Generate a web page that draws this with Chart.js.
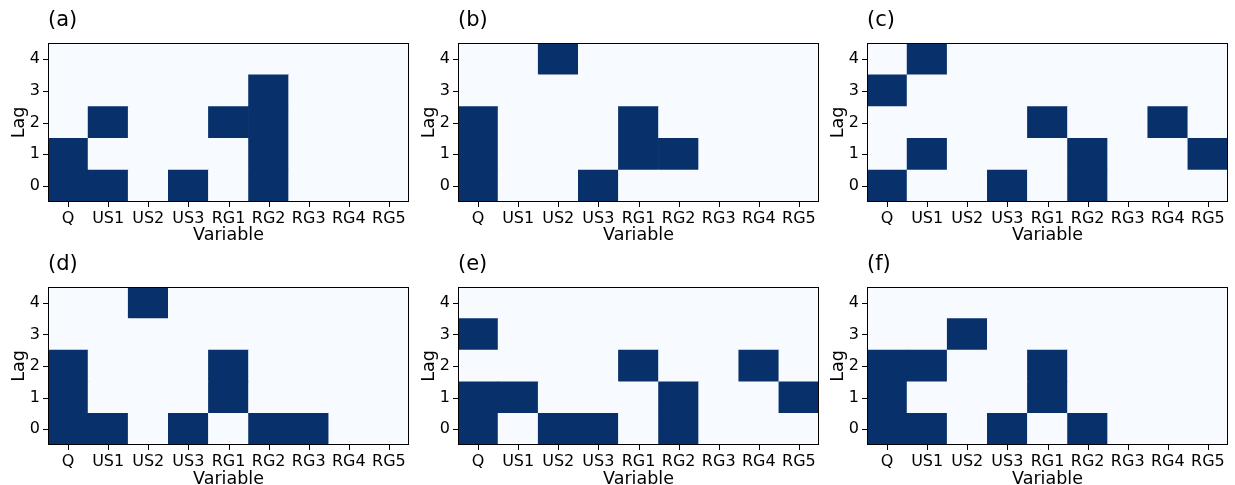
<!DOCTYPE html>
<html>
<head>
<meta charset="utf-8">
<script src="https://cdn.jsdelivr.net/npm/chart.js@4/dist/chart.umd.min.js"></script>
<style>
  body { margin: 0; background: #fff; }
  #wrap { position: relative; width: 1235px; height: 485px; overflow: hidden; }
  .panel { position: absolute; }
</style>
</head>
<body>
<div id="wrap"></div>
<script>
const variables = ["Q", "US1", "US2", "US3", "RG1", "RG2", "RG3", "RG4", "RG5"];
const lags = [0, 1, 2, 3, 4];
const panelTitles = ["(a)", "(b)", "(c)", "(d)", "(e)", "(f)"];

// rows are lag 0..4, columns follow variables
const panelA = [
  [1, 1, 0, 1, 0, 1, 0, 0, 0],
  [1, 0, 0, 0, 0, 1, 0, 0, 0],
  [0, 1, 0, 0, 1, 1, 0, 0, 0],
  [0, 0, 0, 0, 0, 1, 0, 0, 0],
  [0, 0, 0, 0, 0, 0, 0, 0, 0],
];
const panelB = [
  [1, 0, 0, 1, 0, 0, 0, 0, 0],
  [1, 0, 0, 0, 1, 1, 0, 0, 0],
  [1, 0, 0, 0, 1, 0, 0, 0, 0],
  [0, 0, 0, 0, 0, 0, 0, 0, 0],
  [0, 0, 1, 0, 0, 0, 0, 0, 0],
];
const panelC = [
  [1, 0, 0, 1, 0, 1, 0, 0, 0],
  [0, 1, 0, 0, 0, 1, 0, 0, 1],
  [0, 0, 0, 0, 1, 0, 0, 1, 0],
  [1, 0, 0, 0, 0, 0, 0, 0, 0],
  [0, 1, 0, 0, 0, 0, 0, 0, 0],
];
const panelD = [
  [1, 1, 0, 1, 0, 1, 1, 0, 0],
  [1, 0, 0, 0, 1, 0, 0, 0, 0],
  [1, 0, 0, 0, 1, 0, 0, 0, 0],
  [0, 0, 0, 0, 0, 0, 0, 0, 0],
  [0, 0, 1, 0, 0, 0, 0, 0, 0],
];
const panelE = [
  [1, 0, 1, 1, 0, 1, 0, 0, 0],
  [1, 1, 0, 0, 0, 1, 0, 0, 1],
  [0, 0, 0, 0, 1, 0, 0, 1, 0],
  [1, 0, 0, 0, 0, 0, 0, 0, 0],
  [0, 0, 0, 0, 0, 0, 0, 0, 0],
];
const panelF = [
  [1, 1, 0, 1, 0, 1, 0, 0, 0],
  [1, 0, 0, 0, 1, 0, 0, 0, 0],
  [1, 1, 0, 0, 1, 0, 0, 0, 0],
  [0, 0, 1, 0, 0, 0, 0, 0, 0],
  [0, 0, 0, 0, 0, 0, 0, 0, 0],
];
const panels = [panelA, panelB, panelC, panelD, panelE, panelF];

var DARK = "#08306b";
var LIGHT = "#f7fbff";
var FONT = "DejaVu Sans";
var TICK = 5;

// plot-area edges in the page, per column / row
var plotLeft = [48, 458, 867];
var plotRight = [409, 819, 1228];
var plotTop = [43, 287];
var plotBottom = [202, 445];

var framePlugin = {
  id: "frame",
  beforeDraw: function (chart) {
    var a = chart.chartArea, ctx = chart.ctx;
    ctx.save();
    ctx.fillStyle = LIGHT;
    ctx.fillRect(a.left, a.top, a.right - a.left, a.bottom - a.top);
    ctx.restore();
  },
  afterDraw: function (chart) {
    var a = chart.chartArea, ctx = chart.ctx;
    var xs = chart.scales.x, ys = chart.scales.y;
    var l = Math.round(a.left), t = Math.round(a.top);
    var r = Math.round(a.right), b = Math.round(a.bottom);
    ctx.save();
    ctx.strokeStyle = "#000";
    ctx.lineWidth = 1;
    ctx.strokeRect(l + 0.5, t + 0.5, r - l - 1, b - t - 1);
    // tick marks
    ctx.beginPath();
    xs.ticks.forEach(function (_, i) {
      var x = Math.round(xs.getPixelForTick(i)) + 0.5;
      ctx.moveTo(x, b);
      ctx.lineTo(x, b + TICK);
    });
    ys.ticks.forEach(function (_, i) {
      var y = Math.round(ys.getPixelForTick(i)) + 0.5;
      ctx.moveTo(l, y);
      ctx.lineTo(l - TICK, y);
    });
    ctx.stroke();
    ctx.fillStyle = "#000";
    ctx.font = "21px '" + FONT + "'";
    ctx.textBaseline = "alphabetic";
    ctx.textAlign = "left";
    ctx.fillText(chart.options.plugins.frame.label, a.left, a.top - 17);
    ctx.restore();
  },
};

var wrap = document.getElementById("wrap");

panels.forEach(function (grid, p) {
  var col = p % 3, row = Math.floor(p / 3);
  var left = plotLeft[col] - 48;
  var top = row === 0 ? 0 : 244;
  var width = plotRight[col] + 6 - left;
  var height = 246;
  var bottomPad = height - (plotBottom[row] - top);

  var div = document.createElement("div");
  div.className = "panel";
  div.style.left = left + "px";
  div.style.top = top + "px";
  div.style.width = width + "px";
  div.style.height = height + "px";
  var canvas = document.createElement("canvas");
  div.appendChild(canvas);
  wrap.appendChild(div);

  var datasets = lags.map(function (lag, i) {
    return {
      label: "Lag " + lag,
      data: grid[i].map(function () { return [lag - 0.5, lag + 0.5]; }),
      backgroundColor: grid[i].map(function (v) { return v ? DARK : LIGHT; }),
      borderWidth: 0,
      barPercentage: 1,
      categoryPercentage: 1,
    };
  });

  new Chart(canvas.getContext("2d"), {
    type: "bar",
    data: { labels: variables, datasets: datasets },
    options: {
      responsive: true,
      maintainAspectRatio: false,
      animation: false,
      layout: { padding: { top: plotTop[row] - top, right: 6, left: 0, bottom: 0 } },
      plugins: {
        legend: { display: false },
        tooltip: { enabled: false },
        frame: { label: panelTitles[p] },
      },
      scales: {
        x: {
          stacked: true,
          border: { display: false },
          grid: { offset: false, drawOnChartArea: false, drawTicks: true, tickLength: TICK, color: "rgba(0,0,0,0)" },
          ticks: { color: "#000", padding: 2, maxRotation: 0, autoSkip: false, font: { family: FONT, size: 16 } },
          title: { display: true, text: "Variable", color: "#000", padding: { top: 0, bottom: 0 }, font: { family: FONT, size: 17.5 } },
          afterFit: function (scale) { scale.height = bottomPad; },
        },
        y: {
          min: -0.5,
          max: 4.5,
          border: { display: false },
          grid: { drawOnChartArea: false, drawTicks: true, tickLength: TICK, color: "rgba(0,0,0,0)" },
          ticks: { color: "#000", padding: 3, font: { family: FONT, size: 16 } },
          title: { display: true, text: "Lag", color: "#000", padding: { top: 9, bottom: 0 }, font: { family: FONT, size: 17.5 } },
          afterBuildTicks: function (scale) {
            scale.ticks = lags.map(function (v) { return { value: v }; });
          },
          afterFit: function (scale) { scale.width = 48; },
        },
      },
    },
    plugins: [framePlugin],
  });
});
</script>
</body>
</html>
